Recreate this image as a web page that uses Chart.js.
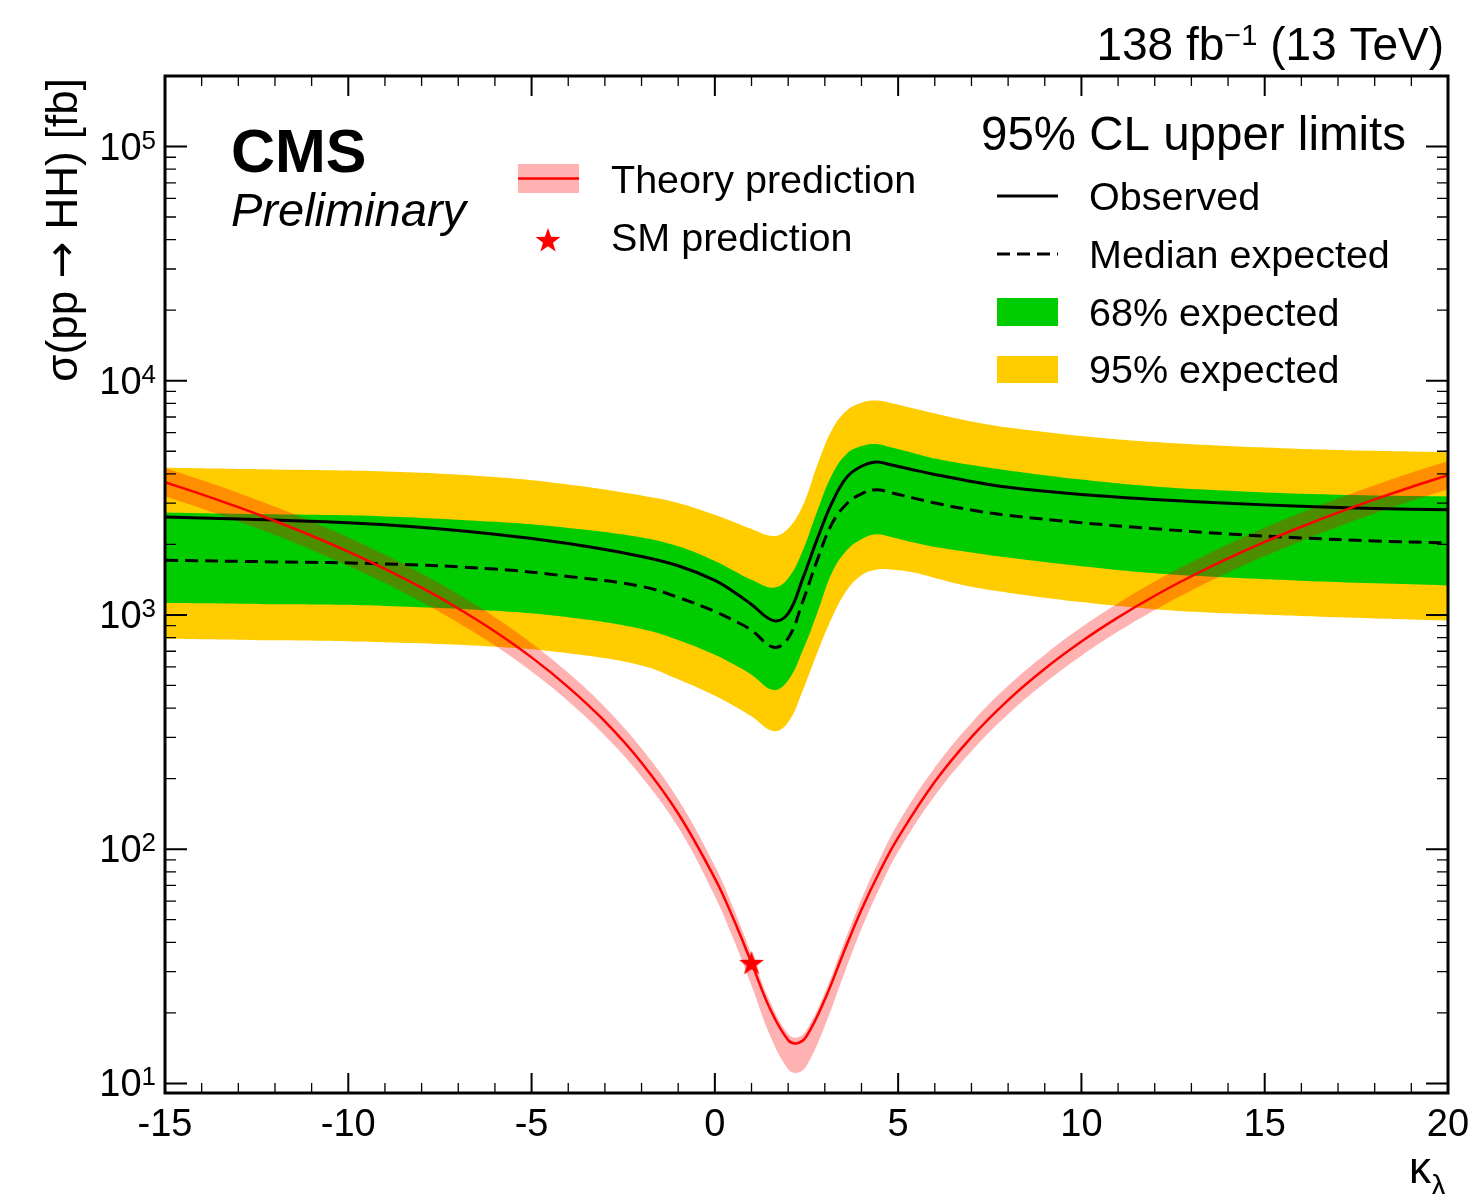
<!DOCTYPE html>
<html>
<head>
<meta charset="utf-8">
<script src="https://cdn.jsdelivr.net/npm/chart.js@4.4.1/dist/chart.umd.min.js"></script>
<style>
  html, body { margin: 0; padding: 0; background: #fff; }
</style>
</head>
<body>
<canvas id="limitChart" width="1470" height="1194"></canvas>
<script>
// theory prediction, sigma(pp -> HH) in fb vs kappa_lambda
const kappaTheory = [-15, -14, -13, -12, -11, -10, -9, -8, -7, -6, -5, -4, -3, -2, -1,
    0, 0.5, 1, 1.5, 2, 2.25, 2.5, 3, 3.5, 4, 4.5, 5,
    6, 7, 8, 9, 10, 11, 12, 13, 14, 15, 16, 17, 18, 19, 20];
const xsecTheory = [3689, 3274, 2885, 2519, 2179, 1864, 1573, 1307, 1066, 850, 659, 492, 351, 234, 142,
    75.0, 50.7, 32.7, 20.9, 15.3, 14.85, 15.9, 22.8, 35.8, 55.1, 80.5, 112,
    194, 301, 433, 589, 770, 976, 1208, 1463, 1744, 2050, 2380, 2735, 3115, 3520, 3950];
const xsecTheoryUp = [4242, 3765, 3318, 2897, 2506, 2144, 1809, 1503, 1226, 978, 758, 566, 404, 269, 163,
    84.8, 56.3, 35.6, 22.4, 16.2, 15.7, 16.9, 24.4, 39.0, 61.2, 91.0, 129,
    223, 346, 498, 677, 886, 1122, 1389, 1682, 2006, 2358, 2737, 3145, 3582, 4048, 4543];
const xsecTheoryDown = [3209, 2848, 2510, 2192, 1896, 1622, 1369, 1137, 927, 740, 573, 428, 305, 204, 124,
    63.0, 41.6, 26.2, 16.1, 11.5, 11.1, 11.9, 17.6, 28.6, 45.7, 68.4, 97.4,
    169, 262, 377, 512, 670, 849, 1051, 1273, 1517, 1784, 2071, 2379, 2710, 3062, 3437];

// 95% CL upper limits
const kappaLimits = [-15, -12, -9, -6, -4, -2, -1, 0, 0.5, 1, 1.6, 2, 2.4, 2.8, 3.2, 3.6, 4.0, 4.4, 4.8, 5.4, 6, 7, 8, 10, 12, 14, 16, 18, 20];
const limitObserved = [2618, 2541, 2427, 2213, 2018, 1778, 1622, 1406, 1259, 1109, 946, 1016, 1433, 2123, 3024, 3878, 4315, 4500, 4375, 4169, 3981, 3715, 3508, 3266, 3112, 2999, 2911, 2851, 2812];
const limitExpected = [1711, 1685, 1652, 1570, 1461, 1324, 1189, 1035, 951, 861, 728, 795, 1143, 1727, 2460, 2985, 3289, 3427, 3327, 3162, 3006, 2805, 2661, 2477, 2333, 2218, 2133, 2070, 2028];
const limitExp68Up = [2741, 2688, 2635, 2497, 2353, 2144, 1963, 1700, 1550, 1413, 1308, 1433, 1887, 2796, 3982, 4880, 5260, 5370, 5200, 4920, 4656, 4365, 4140, 3784, 3532, 3388, 3289, 3236, 3206];
const limitExp68Down = [1124, 1110, 1093, 1041, 977, 871, 782, 676, 617, 556, 478, 526, 706, 1026, 1520, 1887, 2104, 2209, 2153, 2042, 1950, 1849, 1758, 1614, 1507, 1445, 1400, 1365, 1337];
const limitExp95Up = [4253, 4182, 4101, 3886, 3609, 3239, 3009, 2679, 2500, 2328, 2173, 2342, 2936, 4393, 6196, 7467, 8054, 8230, 8035, 7621, 7244, 6699, 6310, 5808, 5470, 5260, 5117, 5023, 4955];
const limitExp95Down = [792, 779, 764, 731, 686, 609, 531, 452, 411, 369, 319, 348, 477, 693, 977, 1274, 1479, 1560, 1563, 1521, 1439, 1318, 1245, 1135, 1059, 1016, 989, 966, 948];

const smKappa = [1];
const smXsec = [32.7];

const xTickLabels = [-15, -10, -5, 0, 5, 10, 15, 20];
const yTickExponents = [1, 2, 3, 4, 5];

const FONT = '"Liberation Sans", Arial, Helvetica, sans-serif';
const RED = '#ff0000';
const RED_BAND = 'rgba(255, 0, 0, 0.3)';
const GREEN = '#00cc00';
const YELLOW = '#ffcc00';

function toPoints(xs, ys) {
    return xs.map((x, i) => ({ x: x, y: ys[i] }));
}

// filled 5-point star used as point style
function makeStar(size) {
    const c = document.createElement('canvas');
    c.width = size;
    c.height = size;
    const g = c.getContext('2d');
    const r1 = size / 2, r2 = size * 0.2;
    g.translate(size / 2, size / 2 + size * 0.04);
    g.beginPath();
    for (let i = 0; i < 10; i++) {
        const r = i % 2 === 0 ? r1 : r2;
        const a = -Math.PI / 2 + i * Math.PI / 5;
        g.lineTo(r * Math.cos(a), r * Math.sin(a));
    }
    g.closePath();
    g.fillStyle = RED;
    g.fill();
    return c;
}
const starImg = makeStar(26);

function lineSet(label, xs, ys, opts) {
    return Object.assign({
        label: label,
        data: toPoints(xs, ys),
        borderWidth: 0,
        pointRadius: 0,
        pointHitRadius: 0,
        fill: false,
        tension: 0.4
    }, opts);
}

// draw text pieces one after the other, each with its own font / raise
function drawRuns(ctx, runs, xRight, baseline) {
    let total = 0;
    runs.forEach(r => { ctx.font = r.font; r.w = ctx.measureText(r.text).width; total += r.w; });
    let cx = xRight - total;
    ctx.textAlign = 'left';
    runs.forEach(r => {
        ctx.font = r.font;
        ctx.fillText(r.text, cx, baseline - (r.raise || 0));
        cx += r.w;
    });
}

const rootStyle = {
    id: 'rootStyle',
    afterDraw(chart) {
        const { ctx, chartArea: a, scales } = chart;
        const x = scales.x, y = scales.y;
        ctx.save();
        ctx.strokeStyle = '#000';
        ctx.fillStyle = '#000';

        // x ticks, bottom and top, pointing inward
        for (let k = -15; k <= 20; k++) {
            const px = x.getPixelForValue(k);
            const major = k % 5 === 0;
            const len = major ? 20 : 10;
            ctx.lineWidth = major ? 2 : 1.3;
            ctx.beginPath();
            ctx.moveTo(px, a.bottom); ctx.lineTo(px, a.bottom - len);
            ctx.moveTo(px, a.top); ctx.lineTo(px, a.top + len);
            ctx.stroke();
        }
        // y ticks, left and right
        for (let d = 0; d <= 5; d++) {
            for (let m = 1; m <= 9; m++) {
                const v = m * Math.pow(10, d);
                if (v <= y.min || v >= y.max) continue;
                const py = y.getPixelForValue(v);
                const major = m === 1;
                const len = major ? 22 : 11;
                ctx.lineWidth = major ? 2 : 1.3;
                ctx.beginPath();
                ctx.moveTo(a.left, py); ctx.lineTo(a.left + len, py);
                ctx.moveTo(a.right, py); ctx.lineTo(a.right - len, py);
                ctx.stroke();
            }
        }
        // frame
        ctx.lineWidth = 3;
        ctx.strokeRect(a.left, a.top, a.right - a.left, a.bottom - a.top);

        // x tick labels
        ctx.font = '38px ' + FONT;
        ctx.textAlign = 'center';
        ctx.textBaseline = 'alphabetic';
        xTickLabels.forEach(k => {
            ctx.fillText(String(k), x.getPixelForValue(k), a.bottom + 43);
        });

        // y tick labels 10^n
        yTickExponents.forEach(n => {
            const py = y.getPixelForValue(Math.pow(10, n));
            drawRuns(ctx, [
                { text: '10', font: '38px ' + FONT },
                { text: String(n), font: '26px ' + FONT, raise: 11 }
            ], 156, py + 13);
        });

        // y axis title
        ctx.save();
        ctx.translate(77, 78);
        ctx.rotate(-Math.PI / 2);
        drawRuns(ctx, [
            { text: '\u03c3(pp ', font: '44px ' + FONT },
            { text: '\u2192', font: '44px "DejaVu Sans", ' + FONT, raise: 1 },
            { text: ' HH) [fb]', font: '44px ' + FONT }
        ], 0, 0);
        ctx.restore();

        // x axis title
        drawRuns(ctx, [
            { text: '\u03ba', font: '44px ' + FONT },
            { text: '\u03bb', font: '30px ' + FONT, raise: -13 }
        ], 1446, 1183);

        // lumi label
        drawRuns(ctx, [
            { text: '138 fb', font: '46px ' + FONT },
            { text: '\u22121', font: '29px ' + FONT, raise: 15 },
            { text: ' (13 TeV)', font: '46px ' + FONT }
        ], 1444, 60);

        // CMS label
        ctx.textAlign = 'left';
        ctx.font = 'bold 61px ' + FONT;
        ctx.fillText('CMS', 231, 172);
        ctx.font = 'italic 47px ' + FONT;
        ctx.fillText('Preliminary', 231, 226);

        // left legend
        ctx.fillStyle = RED_BAND;
        ctx.fillRect(518, 164, 61, 29);
        ctx.strokeStyle = RED;
        ctx.lineWidth = 2.5;
        ctx.beginPath(); ctx.moveTo(518, 178.5); ctx.lineTo(579, 178.5); ctx.stroke();
        ctx.drawImage(starImg, 548 - 13, 240 - 13);
        ctx.fillStyle = '#000';
        ctx.font = '39.5px ' + FONT;
        ctx.fillText('Theory prediction', 611, 193);
        ctx.fillText('SM prediction', 611, 251);

        // right legend
        ctx.font = '47.5px ' + FONT;
        ctx.fillText('95% CL upper limits', 981, 150);
        ctx.strokeStyle = '#000';
        ctx.lineWidth = 3;
        ctx.beginPath(); ctx.moveTo(997, 196); ctx.lineTo(1058, 196); ctx.stroke();
        ctx.setLineDash([13, 7]);
        ctx.beginPath(); ctx.moveTo(997, 254); ctx.lineTo(1058, 254); ctx.stroke();
        ctx.setLineDash([]);
        ctx.fillStyle = GREEN;
        ctx.fillRect(997, 298, 61, 28);
        ctx.fillStyle = YELLOW;
        ctx.fillRect(997, 356, 61, 27);
        ctx.fillStyle = '#000';
        ctx.font = '39.5px ' + FONT;
        ctx.fillText('Observed', 1089, 210);
        ctx.fillText('Median expected', 1089, 268);
        ctx.fillText('68% expected', 1089, 326);
        ctx.fillText('95% expected', 1089, 383);

        ctx.restore();
    }
};

const ctx = document.getElementById('limitChart').getContext('2d');

new Chart(ctx, {
    type: 'line',
    data: {
        datasets: [
            {
                label: 'SM prediction',
                data: toPoints(smKappa, smXsec),
                showLine: false,
                pointStyle: starImg,
                pointRadius: 13,
                pointHitRadius: 0
            },
            lineSet('Theory prediction', kappaTheory, xsecTheory, { borderColor: RED, borderWidth: 2.5 }),
            lineSet('Observed', kappaLimits, limitObserved, { borderColor: '#000', borderWidth: 3 }),
            lineSet('Median expected', kappaLimits, limitExpected, { borderColor: '#000', borderWidth: 3, borderDash: [13, 7] }),
            lineSet('Theory up', kappaTheory, xsecTheoryUp, { fill: '+1', backgroundColor: RED_BAND }),
            lineSet('Theory down', kappaTheory, xsecTheoryDown, {}),
            lineSet('68% up', kappaLimits, limitExp68Up, { fill: '+1', backgroundColor: GREEN }),
            lineSet('68% down', kappaLimits, limitExp68Down, {}),
            lineSet('95% up', kappaLimits, limitExp95Up, { fill: '+1', backgroundColor: YELLOW }),
            lineSet('95% down', kappaLimits, limitExp95Down, {})
        ]
    },
    options: {
        responsive: false,
        animation: false,
        devicePixelRatio: 1,
        layout: {
            padding: { left: 165, right: 22, top: 76, bottom: 101 }
        },
        scales: {
            x: { type: 'linear', min: -15, max: 20, display: false },
            y: { type: 'logarithmic', min: 9.1, max: 200000, display: false }
        },
        plugins: {
            legend: { display: false },
            tooltip: { enabled: false }
        },
        events: []
    },
    plugins: [rootStyle]
});
</script>
</body>
</html>
